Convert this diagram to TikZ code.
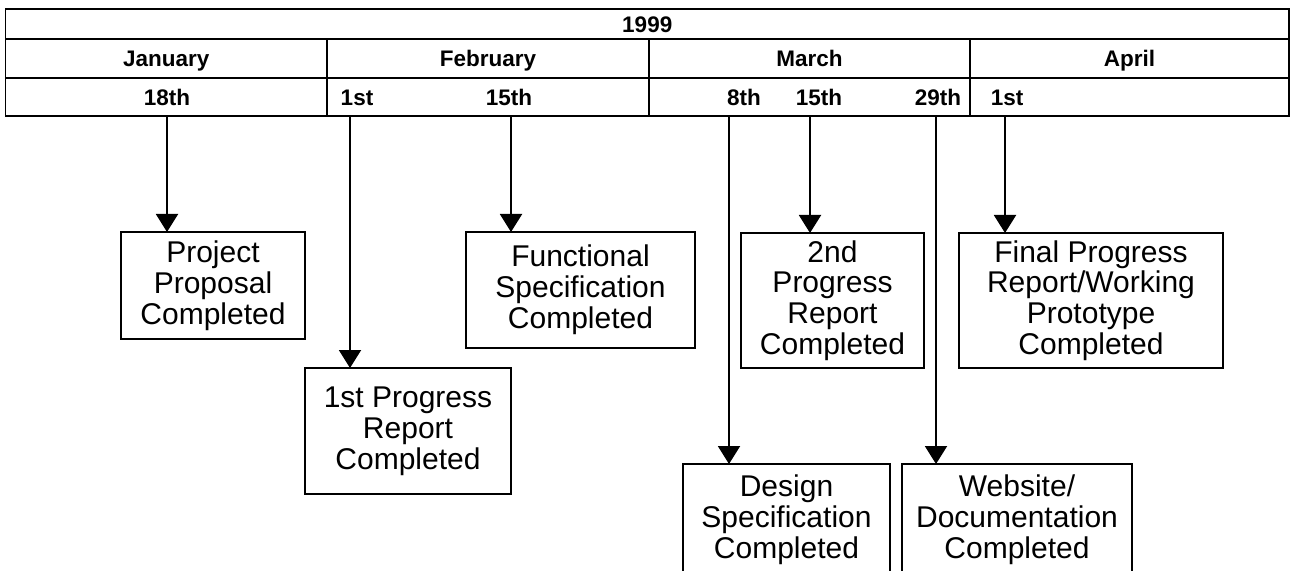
\documentclass[tikz,border=0pt]{standalone}
\usepackage{fontspec}
\setmainfont{Liberation Sans}
\usetikzlibrary{arrows.meta}
\begin{document}
\begin{tikzpicture}[x = 0.5pt, y = -0.5pt,
                    cell/.style = {shape = rectangle,
                                   draw,
                                   line width = 0.75pt,
                                   inner sep = 0pt,
                                   outer sep = 0pt,
                                   text height = 8.1pt,
                                   text depth = 0pt,
                                   font = \fontsize{11.25}{13}\selectfont\bfseries},
                    day/.style = {inner sep = 0pt,
                                  text height = 8.1pt,
                                  text depth = 0pt,
                                  font = \fontsize{11.25}{13}\selectfont\bfseries},
                    task/.style = {shape = rectangle,
                                   draw,
                                   line width = 0.75pt,
                                   inner sep = 0pt,
                                   outer sep = 0pt,
                                   align = center,
                                   font = \fontsize{15}{15.4}\selectfont},
                    arr/.style = {line width = 1pt,
                                  -{Triangle[width = 11pt, length = 9pt]}}]
		\useasboundingbox (0,0) rectangle (1294,571);
		\clip (0,0) rectangle (1294,571);
		\node[cell, minimum width = 641.75pt, minimum height = 15pt] (year) at (647.25,24) {1999};
		\node[cell, minimum width = 160.75pt, minimum height = 19.5pt] (jan) at (166.25,58.5) {January};
		\node[cell, minimum width = 161pt, minimum height = 19.5pt] (feb) at (488,58.5) {February};
		\node[cell, minimum width = 160.5pt, minimum height = 19.5pt] (mar) at (809.5,58.5) {March};
		\node[cell, minimum width = 159.5pt, minimum height = 19.5pt] (apr) at (1129.5,58.5) {April};
		\node[cell, minimum width = 160.75pt, minimum height = 19pt] (janrow) at (166.25,97) {};
		\node[cell, minimum width = 161pt, minimum height = 19pt] (febrow) at (488,97) {};
		\node[cell, minimum width = 160.5pt, minimum height = 19pt] (marrow) at (809.5,97) {};
		\node[cell, minimum width = 159.5pt, minimum height = 19pt] (aprrow) at (1129.5,97) {};
		\node[day] (d18) at (167,97) {18th};
		\node[day] (d1feb) at (357,97) {1st};
		\node[day] (d15feb) at (509,97) {15th};
		\node[day] (d8) at (744,97) {8th};
		\node[day] (d15mar) at (819,97) {15th};
		\node[day] (d29) at (938,97) {29th};
		\node[day] (d1apr) at (1007,97) {1st};
		\node[task, minimum width = 92pt, minimum height = 53.5pt] (pp) at (213,285.5) {Project\\Proposal\\Completed};
		\node[task, minimum width = 103pt, minimum height = 63pt] (pr1) at (408,431) {1st Progress\\Report\\Completed};
		\node[task, minimum width = 114.5pt, minimum height = 58pt] (fs) at (580.5,290) {Functional\\Specification\\Completed};
		\node[task, minimum width = 103.5pt, minimum height = 56pt] (ds) at (786.5,520) {Design\\Specification\\Completed};
		\node[task, minimum width = 91.5pt, minimum height = 67.5pt] (pr2) at (832.5,300.5) {2nd\\Progress\\Report\\Completed};
		\node[task, minimum width = 115pt, minimum height = 56pt] (wd) at (1017,520) {Website/\\Documentation\\Completed};
		\node[task, minimum width = 132pt, minimum height = 67.5pt] (fin) at (1091,300.5) {Final Progress\\Report/Working\\Prototype\\Completed};
		\coordinate (a18) at (167,116);
		\coordinate (a1feb) at (350,116);
		\coordinate (a15feb) at (511,116);
		\coordinate (a8) at (729,116);
		\coordinate (a15mar) at (810,116);
		\coordinate (a29) at (936,116);
		\coordinate (a1apr) at (1005,116);
		\path (a18) edge[arr] (a18 |- pp.north);
		\path (a1feb) edge[arr] (a1feb |- pr1.north);
		\path (a15feb) edge[arr] (a15feb |- fs.north);
		\path (a8) edge[arr] (a8 |- ds.north);
		\path (a15mar) edge[arr] (a15mar |- pr2.north);
		\path (a29) edge[arr] (a29 |- wd.north);
		\path (a1apr) edge[arr] (a1apr |- fin.north);
	\end{tikzpicture}
\end{document}
